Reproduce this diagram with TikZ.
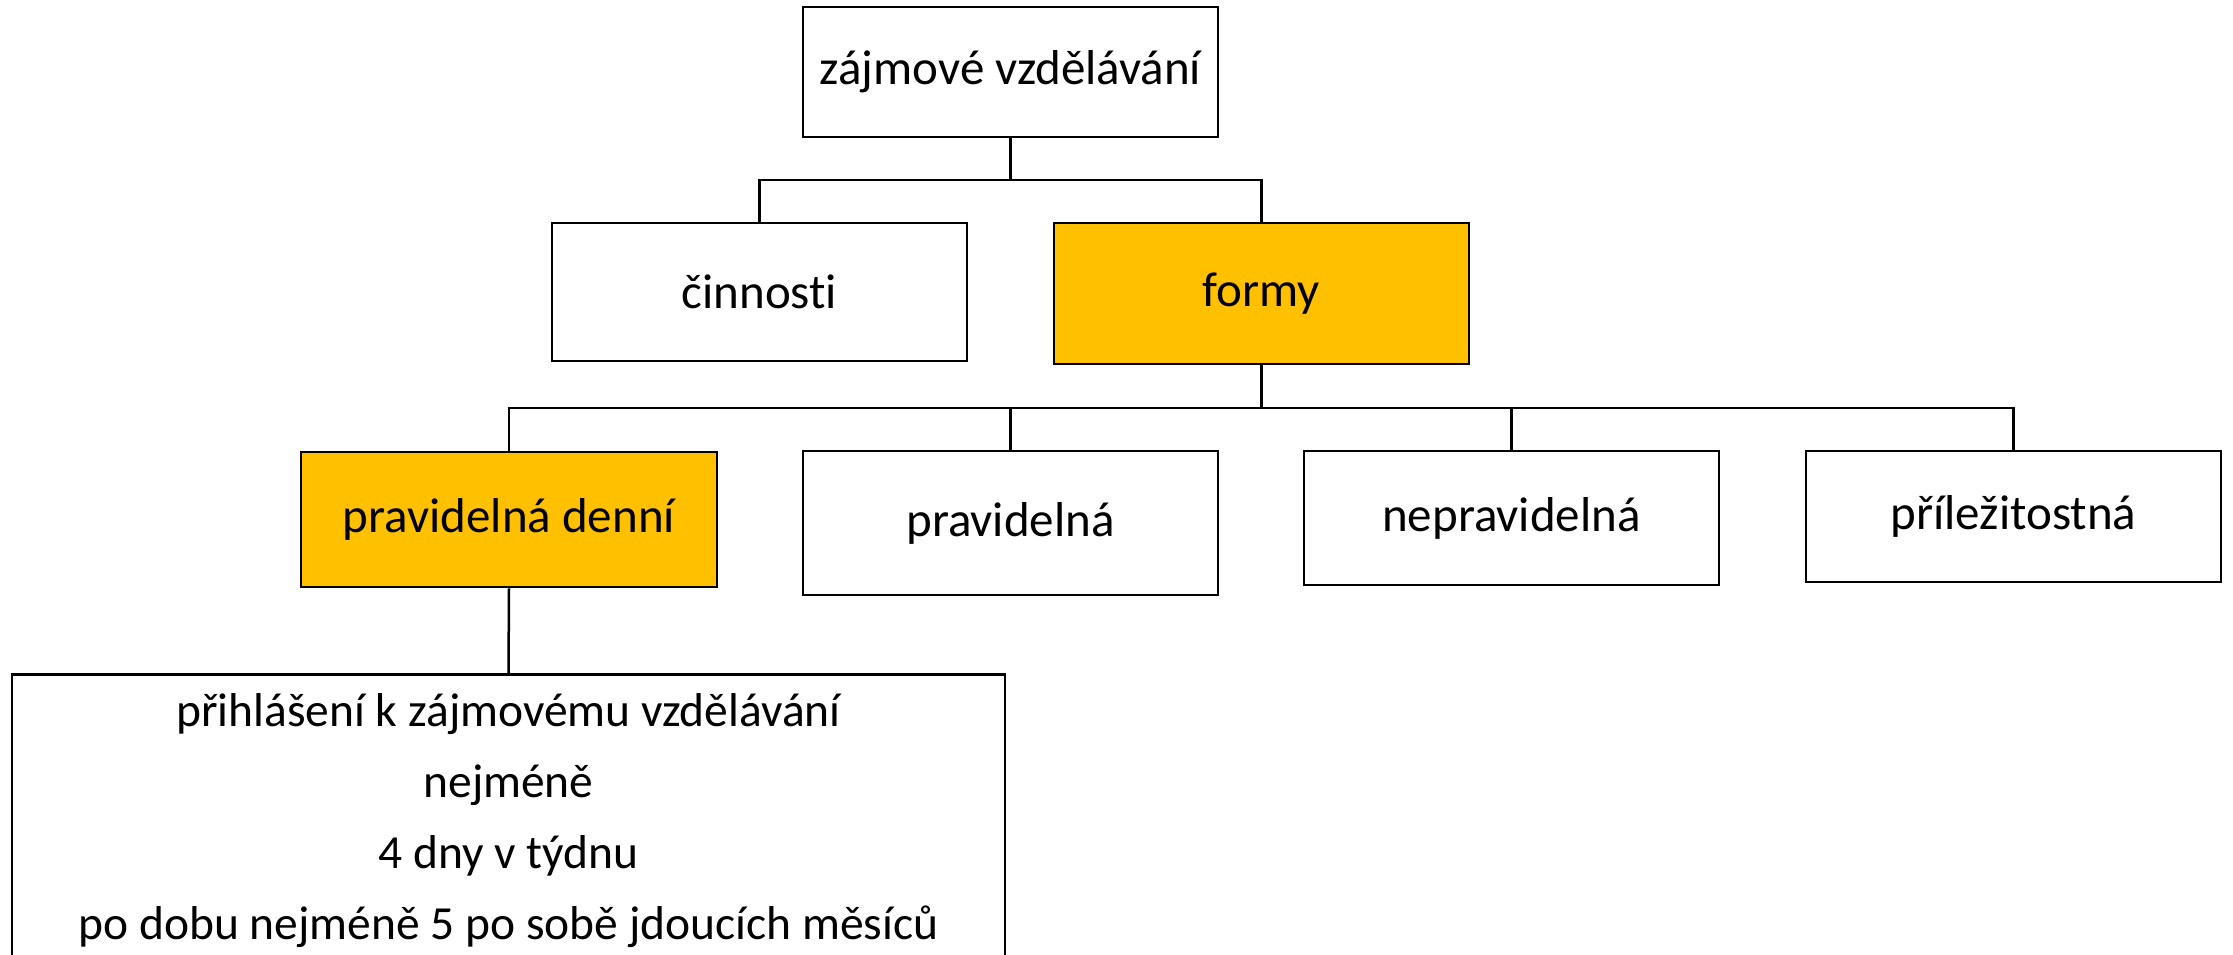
\documentclass[tikz,border=0pt]{standalone}
\usepackage{fontspec}
\setmainfont{Carlito}[Ligatures=NoCommon]
\definecolor{boxorange}{HTML}{FFC000}
\tikzset{
  orgbox/.style={draw=black, line width=2.5pt, fill=white, minimum width=415pt, inner sep=0pt, font=\fontsize{49}{59}\selectfont},
  hibox/.style={orgbox, fill=boxorange},
  conn/.style={draw=black, line width=2.5pt}
}
\begin{document}
\begin{tikzpicture}[x=1pt, y=-1pt]
\useasboundingbox (0,0) rectangle (2233,955);
\node[orgbox, minimum height=130pt] (top) at (1010.5,72) {zájmové vzdělávání};
\node[orgbox, minimum height=138pt] (cin) at (759.5,292) {činnosti};
\node[hibox, minimum height=141pt] (formy) at (1261.5,293.5) {formy};
\node[hibox, minimum width=416pt, minimum height=135pt] (pd) at (509,519.5) {pravidelná denní};
\node[orgbox, minimum height=144pt] (prav) at (1010.5,523) {pravidelná};
\node[orgbox, minimum height=134pt] (nep) at (1511.5,518) {nepravidelná};
\node[orgbox, minimum height=131pt] (pril) at (2013.5,516.5) {příležitostná};
\node[orgbox, minimum width=993pt, minimum height=292pt, align=center, font=\fontsize{47.5}{71}\selectfont, anchor=north] (bot) at (508.5,673) {přihlášení k zájmovému vzdělávání\\nejméně\\4 dny v týdnu\\po dobu nejméně 5 po sobě jdoucích měsíců};
\coordinate (b1) at (1010.5,180);
\coordinate (b2) at (1261.5,408);
\draw[conn] (top.south) -- (b1);
\draw[conn] (cin.north) |- (b1) -| (formy.north);
\draw[conn] (formy.south) -- (b2);
\draw[conn] (pd.north) |- (b2) -| (pril.north);
\draw[conn] (prav.north) -- (prav.north |- b2);
\draw[conn] (nep.north) -- (nep.north |- b2);
\draw[conn] (pd.south) -- (bot.north);
\end{tikzpicture}
\end{document}
